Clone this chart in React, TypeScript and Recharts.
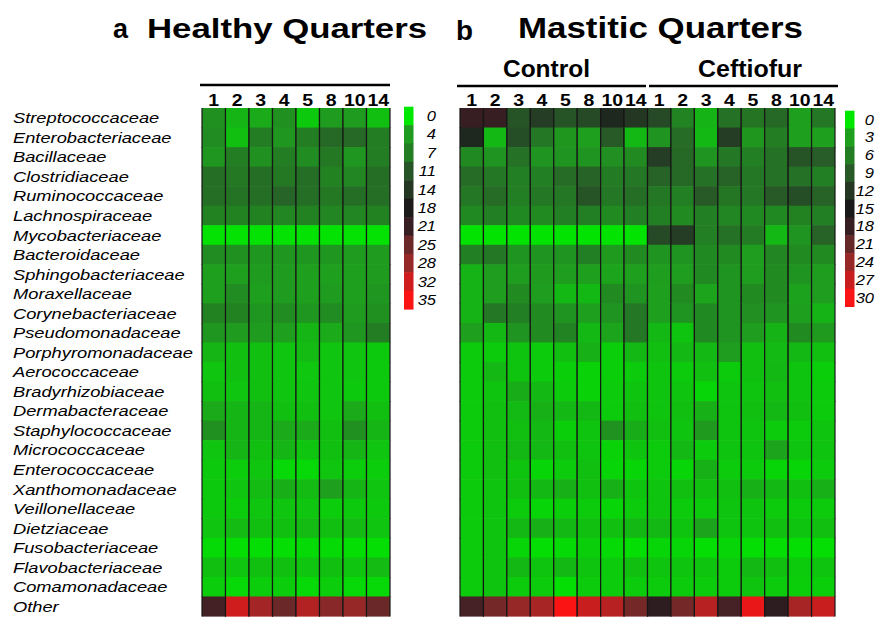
import React from 'react';
import { ScatterChart, Scatter, XAxis, YAxis } from 'recharts';

const families = [
  'Streptococcaceae', 'Enterobacteriaceae', 'Bacillaceae', 'Clostridiaceae', 'Ruminococcaceae',
  'Lachnospiraceae', 'Mycobacteriaceae', 'Bacteroidaceae', 'Sphingobacteriaceae', 'Moraxellaceae',
  'Corynebacteriaceae', 'Pseudomonadaceae', 'Porphyromonadaceae', 'Aerococcaceae', 'Bradyrhizobiaceae',
  'Dermabacteraceae', 'Staphylococcaceae', 'Micrococcaceae', 'Enterococcaceae', 'Xanthomonadaceae',
  'Veillonellaceae', 'Dietziaceae', 'Fusobacteriaceae', 'Flavobacteriaceae', 'Comamonadaceae', 'Other',
];

const sampleLabels = ['1', '2', '3', '4', '5', '8', '10', '14'];

const healthyTicks = [0, 4, 7, 11, 14, 18, 21, 25, 28, 32, 35];
const mastitisTicks = [0, 3, 6, 9, 12, 15, 18, 21, 24, 27, 30];

// rows = families, columns = quarters 1,2,3,4,5,8,10,14
const healthy = [
  [5, 2.5, 3, 5, 1.5, 4, 4, 2],
  [5.5, 2, 7, 4.5, 7, 9, 9, 7],
  [4.5, 7, 5, 7, 5.5, 7.5, 4.5, 7],
  [8.5, 7.5, 8.5, 7.5, 8.5, 6.5, 6, 8.5],
  [8.5, 8, 8.5, 9.5, 8.5, 7.5, 8.5, 8.5],
  [6.5, 6.5, 6.5, 6, 6.5, 6, 6, 6.5],
  [0.3, 0.3, 0.3, 0.3, 0.3, 0.3, 0.3, 0.3],
  [5.5, 5, 4.5, 4.5, 4.5, 4.5, 4, 4],
  [3.5, 3.5, 4, 4, 3.5, 3.5, 3.5, 4],
  [3.5, 5.5, 3.5, 4, 3.5, 4, 3.5, 4.5],
  [6.5, 6.5, 4.5, 5.5, 4.5, 5.5, 4, 5],
  [4.5, 4, 4, 3.5, 2.5, 3, 4.5, 7],
  [2.5, 2, 2, 1.7, 2.2, 1.7, 1.7, 1.5],
  [1.7, 2, 2, 1.7, 1.6, 1.7, 1.7, 1.5],
  [2, 1.7, 2, 1.7, 1.7, 1.7, 1.5, 1.5],
  [3, 2.5, 2.5, 2, 2, 1.7, 3, 2],
  [5, 2.5, 2.5, 3, 3, 2, 5, 2.5],
  [1.7, 2.5, 2, 2.5, 1.7, 2, 2.5, 1.7],
  [1.5, 1.3, 1.7, 0.8, 0.8, 1.7, 1.3, 1.3],
  [1.5, 1.7, 2.2, 2.8, 2.2, 3.5, 2.5, 1.7],
  [1.5, 1.3, 1.7, 1.7, 1.7, 1.3, 1.5, 1.5],
  [1.7, 2.2, 2, 2, 2.2, 2, 2.2, 1.7],
  [0.7, 0.5, 0.5, 0.5, 0.7, 0.7, 0.5, 0.5],
  [2, 1.7, 2, 2, 1.7, 2, 1.7, 2.2],
  [1.3, 0.8, 1.3, 1.3, 0.8, 1.3, 0.8, 0.8],
  [22, 32, 29, 25, 30, 27, 28, 25],
];

const control = [
  [18, 18, 9.5, 11.5, 9.5, 10.5, 13.5, 12],
  [13.5, 2, 10, 6.5, 3.8, 3, 9, 2],
  [5, 4, 7, 4, 4, 4, 4.5, 4.8],
  [7.5, 6.5, 5.8, 5.8, 7.5, 8.3, 6.2, 6.5],
  [6.5, 7.5, 5.8, 6.5, 6.5, 9.5, 6.5, 7.3],
  [5, 5.8, 5, 4.8, 5.8, 5.8, 4.8, 5.8],
  [0.2, 0.2, 0.2, 0.2, 0.2, 0.2, 0.2, 0.2],
  [5.8, 6.5, 4, 4, 4, 5.8, 3.5, 4.8],
  [2.2, 3.3, 3.3, 3.5, 3.3, 3, 2.8, 3],
  [2.2, 3.3, 4.8, 3.3, 2, 2, 4.8, 4],
  [2.2, 6.5, 5.8, 4.8, 4, 3, 4, 6.5],
  [3, 2, 4, 4.8, 5.5, 2, 2.8, 6.5],
  [1.2, 1.2, 1.5, 1.2, 1.7, 2.3, 1.1, 2],
  [1.2, 2, 1.5, 1.2, 1.1, 0.9, 1.1, 1.2],
  [1.2, 1.5, 2.5, 2, 1.2, 0.9, 1.2, 1.5],
  [1.2, 1.7, 1.9, 2.3, 2, 2, 1.2, 1.7],
  [1.2, 1.7, 1.7, 2, 1.1, 1.5, 4.2, 2.5],
  [1.2, 1.7, 2, 2, 1.7, 1.5, 0.9, 1.5],
  [1.2, 1.7, 1.5, 0.8, 1.2, 1.7, 0.8, 0.8],
  [1.2, 1.5, 1.7, 2, 2.3, 1.7, 2.3, 1.5],
  [1.2, 1.5, 1.2, 0.8, 1.1, 1.2, 0.8, 1.2],
  [1.2, 1.5, 2, 2.3, 2, 1.7, 1.7, 2],
  [1.2, 1.5, 0.8, 0.4, 0.6, 1.1, 0.6, 0.4],
  [1.2, 1.5, 2, 1.5, 2, 1.5, 1.2, 1.7],
  [1.2, 1.5, 1.2, 1.2, 0.4, 1.2, 1.2, 1.2],
  [19, 22, 24, 25, 30, 27, 26, 22],
];

const ceftiofur = [
  [10.5, 5.5, 2.2, 7, 6.8, 7.8, 3, 6.5],
  [4, 7.5, 2, 11.5, 3.8, 6, 3, 3],
  [11.5, 7.8, 4, 6.5, 5.8, 7, 9.5, 8.8],
  [8.3, 7.8, 7, 8.3, 6.5, 7, 7, 5.8],
  [6.5, 5.8, 9, 6.7, 6.5, 9, 10, 8.3],
  [5.8, 4.8, 5.8, 5.2, 5, 5, 5.6, 5.8],
  [10.5, 11.5, 5.8, 7, 6.2, 2, 4, 8.3],
  [4, 4, 5, 4.8, 3.3, 5.2, 4.8, 4.8],
  [3.3, 3.3, 5, 4, 3.3, 4.8, 4, 3.3],
  [3, 4.8, 2.8, 4, 4.8, 4.8, 2.9, 3.3],
  [3, 4, 5, 4, 4.5, 4, 3, 2.2],
  [2, 1.5, 5, 4, 3.3, 2.2, 4.8, 3.5],
  [1.7, 2, 2, 3.3, 1.7, 1.9, 2, 1.7],
  [1.5, 1.2, 1.7, 1.2, 1.7, 2, 1.5, 1.1],
  [1.5, 1.5, 0.8, 1.5, 1.5, 1.7, 1.5, 1.2],
  [1.5, 1.7, 2.3, 1.5, 1.7, 2, 1.7, 1.2],
  [1.7, 1.5, 3.5, 1.5, 1.5, 1.2, 1.2, 1.5],
  [1.2, 2, 1.2, 1.5, 1.5, 2.8, 1.5, 1.5],
  [1.2, 0.8, 2.3, 1.2, 1.2, 0.8, 0.8, 1.2],
  [1.5, 1.7, 1.7, 1.7, 2.3, 2, 1.7, 2.3],
  [1.5, 1.2, 1.2, 1.5, 1.5, 1.2, 1.2, 1.2],
  [2, 1.5, 2.8, 1.5, 1.5, 1.7, 1.5, 1.7],
  [0.8, 0.8, 0.4, 0.8, 0.4, 0.4, 0.4, 0.4],
  [1.5, 1.5, 1.5, 1.2, 2, 1.7, 1.2, 1.5],
  [1.2, 1.2, 1.2, 1.2, 1.5, 1.2, 1.1, 1.1],
  [17, 22, 26, 19, 29, 17, 25, 27],
];

// ---------- colour scale (green -> black -> red) ----------
const STOPS: number[][] = [
  [0, 232, 0], [30, 160, 30], [35, 125, 35], [40, 90, 40], [35, 55, 35], [25, 25, 25],
  [55, 30, 35], [100, 40, 40], [150, 40, 40], [200, 30, 30], [250, 20, 20],
];
function heat(v: number, max: number): string {
  const t = Math.max(0, Math.min(1, v / max)) * (STOPS.length - 1);
  const i = Math.min(STOPS.length - 2, Math.floor(t));
  const f = t - i;
  const a = STOPS[i], b = STOPS[i + 1];
  const c = a.map((av, k) => Math.round(av + (b[k] - av) * f));
  return `rgb(${c[0]},${c[1]},${c[2]})`;
}

const FONT = '"Liberation Sans", Arial, Helvetica, sans-serif';
const SX = 1.18;

function StretchText(props: any) {
  const { x, y, anchor = 'start', size, weight = 'normal', italic = false, children } = props;
  return (
    <text
      transform={`translate(${x},${y}) scale(${SX},1)`}
      textAnchor={anchor}
      fontSize={size}
      fontWeight={weight}
      fontStyle={italic ? 'italic' : 'normal'}
      fontFamily={FONT}
      fill="#000"
    >
      {children}
    </text>
  );
}

const healthyPoints = families.flatMap((family, i) =>
  sampleLabels.map((s, j) => ({ family, sample: s, value: healthy[i][j] })),
);
const mastitisPoints = families.flatMap((family, i) => [
  ...sampleLabels.map((s, j) => ({ family, sample: 'C-' + s, value: control[i][j] })),
  ...sampleLabels.map((s, j) => ({ family, sample: 'T-' + s, value: ceftiofur[i][j] })),
]);

const X_AXIS_H = 20;
const PLOT_TOP = 108;
const PLOT_H = 508;
const CH = PLOT_H / families.length;

function makeCell(cw: number, max: number) {
  return (props: any) => {
    const { cx, cy, payload } = props;
    if (cx == null || cy == null || !payload) return <g />;
    const x = cx - cw / 2;
    const y = cy - CH / 2;
    return (
      <g>
        <rect x={x} y={y} width={cw} height={CH + 0.6} fill={heat(payload.value, max)} />
        <line x1={x} x2={x} y1={y} y2={y + CH + 0.6} stroke="#161616" strokeWidth={1.2} />
        <line x1={x + cw} x2={x + cw} y1={y} y2={y + CH + 0.6} stroke="#161616" strokeWidth={1.2} />
      </g>
    );
  };
}

const colTick = (props: any) => {
  const raw = String(props.payload.value);
  const label = raw.includes('-') ? raw.split('-')[1] : raw;
  return (
    <StretchText x={props.x} y={106} anchor="middle" size={16.5} weight="bold">
      {label}
    </StretchText>
  );
};

const rowTick = (props: any) => (
  <StretchText x={13} y={props.y + 5.5} size={15.5} italic>
    {props.payload.value}
  </StretchText>
);

function ColorLegend(props: any) {
  const { x, top, blockH, ticks, labelX } = props;
  const max = ticks[ticks.length - 1];
  return (
    <g>
      {ticks.map((t: number, k: number) => (
        <g key={k}>
          <rect x={x} y={top + k * blockH} width={9.5} height={blockH + 0.5} fill={heat(t, max)} />
          <StretchText x={labelX} y={top + k * blockH + blockH / 2 + 5} anchor="end" size={14} italic>
            {t}
          </StretchText>
        </g>
      ))}
    </g>
  );
}

export default function App() {
  const healthyW = 188;
  const mastW = 375;
  const bottom = 617 - PLOT_TOP - PLOT_H;
  return (
    <div
      style={{
        position: 'absolute', left: 0, top: 0, width: 877, height: 617,
        background: '#fff', fontFamily: FONT, overflow: 'hidden',
      }}
    >
      {/* Panel a heatmap */}
      <div style={{ position: 'absolute', left: 0, top: 0 }}>
        <ScatterChart
          width={440}
          height={617}
          margin={{ top: PLOT_TOP - X_AXIS_H, right: 440 - 202 - healthyW, bottom, left: 0 }}
        >
          <XAxis
            type="category"
            dataKey="sample"
            allowDuplicatedCategory={false}
            orientation="top"
            height={X_AXIS_H}
            axisLine={false}
            tickLine={false}
            interval={0}
            tick={colTick}
          />
          <YAxis
            type="category"
            dataKey="family"
            allowDuplicatedCategory={false}
            reversed
            width={202}
            axisLine={false}
            tickLine={false}
            interval={0}
            tick={rowTick}
          />
          <Scatter
            data={healthyPoints}
            isAnimationActive={false}
            shape={makeCell(healthyW / sampleLabels.length, 35)}
          />
        </ScatterChart>
      </div>

      {/* Panel b heatmap */}
      <div style={{ position: 'absolute', left: 440, top: 0 }}>
        <ScatterChart
          width={437}
          height={617}
          margin={{ top: PLOT_TOP - X_AXIS_H, right: 437 - 20 - mastW, bottom, left: 20 }}
        >
          <XAxis
            type="category"
            dataKey="sample"
            allowDuplicatedCategory={false}
            orientation="top"
            height={X_AXIS_H}
            axisLine={false}
            tickLine={false}
            interval={0}
            tick={colTick}
          />
          <YAxis
            type="category"
            dataKey="family"
            allowDuplicatedCategory={false}
            reversed
            hide
          />
          <Scatter
            data={mastitisPoints}
            isAnimationActive={false}
            shape={makeCell(mastW / (sampleLabels.length * 2), 30)}
          />
        </ScatterChart>
      </div>

      {/* Titles, group headers, colour legends */}
      <svg
        width={877}
        height={617}
        style={{ position: 'absolute', left: 0, top: 0, pointerEvents: 'none' }}
      >
        <text x={113} y={37.5} fontSize={27} fontWeight="bold" fontFamily={FONT} textLength={15} lengthAdjust="spacingAndGlyphs">a</text>
        <text x={147} y={37.5} fontSize={28} fontWeight="bold" fontFamily={FONT} textLength={280} lengthAdjust="spacingAndGlyphs">Healthy Quarters</text>
        <text x={456} y={40} fontSize={27} fontWeight="bold" fontFamily={FONT} textLength={17} lengthAdjust="spacingAndGlyphs">b</text>
        <text x={518} y={37.5} fontSize={29} fontWeight="bold" fontFamily={FONT} textLength={285} lengthAdjust="spacingAndGlyphs">Mastitic Quarters</text>

        <text x={503} y={77} fontSize={23} fontWeight="bold" fontFamily={FONT} textLength={87} lengthAdjust="spacingAndGlyphs">Control</text>
        <text x={698} y={77} fontSize={23} fontWeight="bold" fontFamily={FONT} textLength={104} lengthAdjust="spacingAndGlyphs">Ceftiofur</text>

        <line x1={200} x2={390} y1={85} y2={85} stroke="#000" strokeWidth={2.5} />
        <line x1={457} x2={646} y1={86} y2={86} stroke="#000" strokeWidth={2.5} />
        <line x1={649} x2={838} y1={86} y2={86} stroke="#000" strokeWidth={2.5} />

        <ColorLegend x={404} top={106.7} blockH={18.4} ticks={healthyTicks} labelX={436} />
        <ColorLegend x={845} top={110.7} blockH={17.8} ticks={mastitisTicks} labelX={874} />
      </svg>
    </div>
  );
}
